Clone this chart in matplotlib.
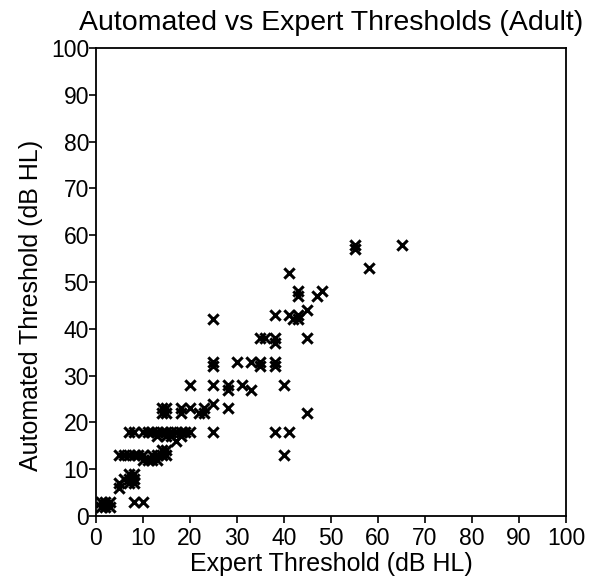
import matplotlib
matplotlib.use("Agg")
import matplotlib.pyplot as plt

# expert vs automated thresholds, dB HL
expert = [1, 2, 3, 2, 3, 1,
          8, 10,
          5, 5, 6, 7, 8, 7, 8, 8, 7,
          5, 6, 7, 8, 9, 10, 10, 11, 12, 13, 12, 13, 14, 15, 15, 14,
          7, 8, 10, 11, 12, 13, 14, 15, 16, 17, 18, 19, 20, 16, 17, 18, 13, 15,
          14, 15, 14, 15, 18, 18, 20, 23, 22, 23,
          20, 25, 25, 25, 25, 25, 25,
          28, 28, 28, 30, 31, 33, 33,
          35, 36, 35, 35, 38, 38, 38, 38, 38, 38,
          40, 40, 41, 41, 41, 42, 43, 43, 43, 43,
          45, 45, 45, 47, 48,
          55, 55, 58, 65]
automated = [3, 3, 3, 2, 2, 2,
             3, 3,
             6, 7, 8, 8, 8, 9, 9, 7, 7,
             13, 13, 13, 13, 13, 13, 12, 12, 12, 12, 13, 13, 13, 14, 13, 14,
             18, 18, 18, 18, 18, 18, 18, 18, 18, 18, 18, 18, 18, 17, 16, 17, 17, 17,
             23, 23, 22, 22, 23, 22, 23, 23, 22, 22,
             28, 42, 33, 32, 28, 24, 18,
             28, 27, 23, 33, 28, 33, 27,
             38, 38, 33, 32, 38, 37, 43, 33, 32, 18,
             28, 13, 18, 52, 43, 42, 43, 42, 48, 47,
             44, 38, 22, 47, 48,
             58, 57, 53, 58]

plt.rcParams['font.family'] = ['Liberation Sans', 'DejaVu Sans']

fig = plt.figure(figsize=(5.95, 5.80), dpi=100)
ax = fig.add_axes([0.1613, 0.1103, 0.79, 0.807])

ax.scatter(expert, automated, marker='x', s=55, c='black', linewidths=2.2)

ax.set_xlim(0, 100)
ax.set_ylim(0, 100)
ax.set_xticks(range(0, 101, 10))
ax.set_yticks(range(0, 101, 10))
ax.tick_params(direction='out', length=5, width=1.2, labelsize=16.5, colors='black')
ax.tick_params(axis='x', pad=3)
ax.tick_params(axis='y', pad=0)
for sp in ax.spines.values():
    sp.set_linewidth(1.3)

ax.set_xlabel('Expert Threshold (dB HL)', fontsize=18, labelpad=1)
ax.set_ylabel('Automated Threshold (dB HL)', fontsize=18)
ax.yaxis.set_label_coords(-0.112, 0.45)
ax.set_title('Automated vs Expert Thresholds (Adult)', fontsize=20.5, pad=13)

fig.savefig('out.png', dpi=100)
